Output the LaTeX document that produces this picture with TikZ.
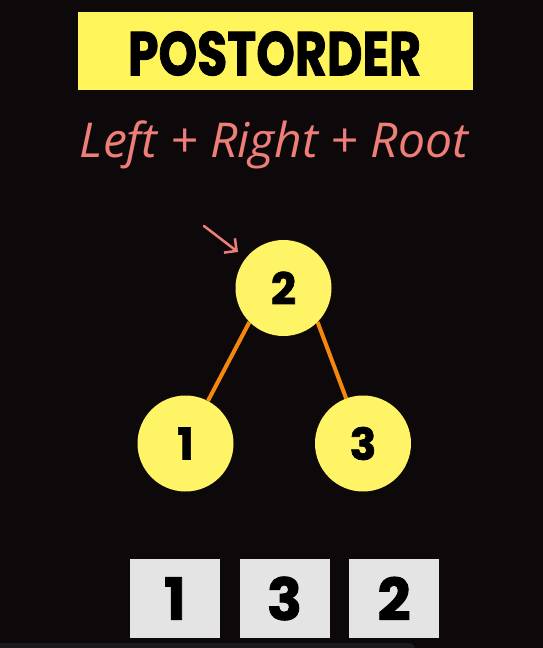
\documentclass[tikz,border=0pt]{standalone}
\usepackage{fontspec}
\usepackage{graphicx}
\usetikzlibrary{arrows.meta,backgrounds}
\newfontfamily\heavyfont{Poppins}[BoldFeatures={FakeBold=1.5}]
\newfontfamily\handfont{Open Sans}
\definecolor{bgcol}{HTML}{0D090A}
\definecolor{ttlyellow}{HTML}{FFF55A}
\definecolor{nodeyellow}{HTML}{FFF466}
\definecolor{edgeorange}{HTML}{F5870C}
\definecolor{salmon}{HTML}{F07E78}
\definecolor{boxgrey}{HTML}{E4E4E4}
\definecolor{stripcol}{HTML}{1C1A1C}
\tikzset{
  treenode/.style={circle, fill=nodeyellow, minimum size=96pt, inner sep=0pt,
    font=\heavyfont\bfseries\fontsize{44}{44}\selectfont, text=black},
  resbox/.style={rectangle, fill=boxgrey, minimum width=90pt, minimum height=79pt, inner sep=0pt,
    font=\heavyfont\bfseries\fontsize{58}{58}\selectfont, text=black},
  edge/.style={draw=edgeorange, line width=4pt},
  pointer/.style={draw=salmon, line width=2.5pt, line cap=round,
    -{Straight Barb[length=9pt,width=18pt,line width=2.5pt]}}
}
\begin{document}
\begin{tikzpicture}[x=1pt,y=-1pt]
\useasboundingbox (0,0) rectangle (543,648);
% title
\node[fill=ttlyellow, minimum width=395pt, minimum height=78pt, inner sep=0pt] (titlebox) at (275.5,51) {};
\node[inner sep=0pt] (title) at (274.5,53.5) {\resizebox{293pt}{44pt}{\heavyfont\bfseries POSTORDER}};
% subtitle
\node[inner sep=0pt, anchor=base, text=salmon] (subtitle) at (274,157) {\resizebox{388pt}{!}{\handfont\itshape\fontsize{45}{45}\selectfont Left + Right + Root}};
% tree
\node[treenode] (n2) at (283.5,288) {2};
\node[treenode] (n1) at (185.5,443.5) {1};
\node[treenode] (n3) at (363,443.5) {3};
% pointer
\coordinate (ps) at (204,226);
\coordinate (pe) at (238,252);
\draw[pointer] (ps) -- (pe);
% result boxes
\node[resbox] (b1) at (175,598.5) {1};
\node[resbox] (b2) at (284.5,598.5) {3};
\node[resbox] (b3) at (394,598.5) {2};
\begin{scope}[on background layer]
  \fill[bgcol] (0,0) rectangle (543,648);
  \fill[stripcol, rounded corners=6pt] (-10,643) rectangle (415,660);
  \draw[edge] (n2.south west) -- (n1);
  \draw[edge] (n2.south east) -- (n3);
\end{scope}
\end{tikzpicture}
\end{document}
